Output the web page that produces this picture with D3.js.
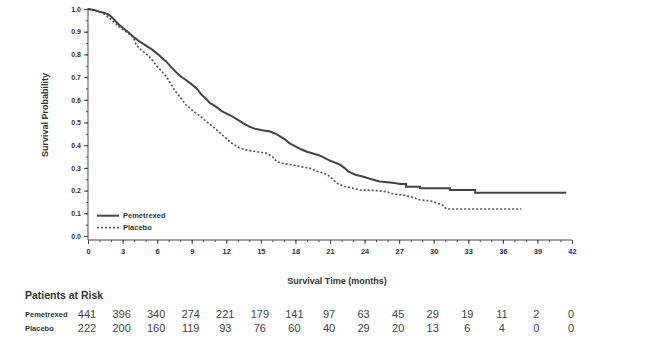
<!DOCTYPE html>
<html>
<head>
<meta charset="utf-8">
<script src="https://cdn.jsdelivr.net/npm/d3@7"></script>
<style>
  body { margin: 0; background: #fff; }
  svg text { font-family: Arial, "Liberation Sans", sans-serif; }
</style>
</head>
<body>
<div id="app"></div>
<script>
// survival curves (months, probability)
var pemTime = [0, 0.5, 1.0, 1.5, 1.9, 2.3, 2.7, 3.2, 3.6, 4.0, 4.5, 5.0, 5.6, 6.2, 6.8, 7.2, 7.6, 8.0, 8.5, 9.0,
    9.4, 9.8, 10.2, 10.6, 11.1, 11.6, 12.3, 12.9, 13.5, 14.0, 14.4, 15.1, 15.8, 16.3, 16.7, 17.1, 17.5, 18.0,
    18.5, 19.0, 19.6, 20.1, 20.6, 21.0, 21.5, 21.9, 22.3, 22.6, 23.2, 23.9, 24.6, 25.3, 26.0, 26.6, 27.1,
    27.6, 27.6, 28.8, 28.8, 31.4, 31.4, 33.6, 33.6, 41.5];
var pemSurv = [1.0, 0.996, 0.988, 0.982, 0.972, 0.952, 0.93, 0.91, 0.893, 0.875, 0.856, 0.84, 0.82, 0.795,
    0.768, 0.745, 0.724, 0.705, 0.687, 0.668, 0.651, 0.625, 0.607, 0.585, 0.57, 0.55, 0.533, 0.515, 0.496,
    0.482, 0.474, 0.466, 0.46, 0.45, 0.438, 0.425, 0.408, 0.395, 0.382, 0.371, 0.362, 0.355, 0.342, 0.332,
    0.322, 0.313, 0.298, 0.283, 0.27, 0.261, 0.25, 0.24, 0.237, 0.233, 0.229,
    0.229, 0.217, 0.217, 0.21, 0.21, 0.203, 0.203, 0.191, 0.191];

var plaTime = [0, 0.5, 1.0, 1.5, 2.1, 2.7, 3.3, 3.9, 4.2, 4.6, 5.0, 5.5, 5.9, 6.4, 6.8, 7.2, 7.6, 8.1, 8.5,
    8.9, 9.4, 9.8, 10.3, 10.9, 11.5, 12.0, 12.3, 12.8, 13.2, 14.0, 14.8, 15.5, 16.0, 16.4, 17.1, 17.8, 18.5,
    19.3, 19.9, 20.5, 21.0, 21.6, 22.3, 23.0, 23.6, 25.1, 25.9, 26.5, 27.4, 28.2, 28.8, 29.7, 30.3, 30.8,
    31.1, 37.6];
var plaSurv = [1.0, 0.996, 0.988, 0.975, 0.95, 0.922, 0.9, 0.878, 0.841, 0.82, 0.805, 0.78, 0.753, 0.725,
    0.702, 0.67, 0.636, 0.605, 0.577, 0.56, 0.54, 0.526, 0.503, 0.48, 0.452, 0.43, 0.415, 0.398, 0.386,
    0.376, 0.37, 0.364, 0.35, 0.327, 0.318, 0.313, 0.305, 0.298, 0.285, 0.276, 0.262, 0.232, 0.218, 0.21,
    0.203, 0.2, 0.195, 0.185, 0.18, 0.17, 0.159, 0.155, 0.145, 0.135, 0.119, 0.119];

var riskMonths = [0, 3, 6, 9, 12, 15, 18, 21, 24, 27, 30, 33, 36, 39, 42];
var pemRisk = [441, 396, 340, 274, 221, 179, 141, 97, 63, 45, 29, 19, 11, 2, 0];
var plaRisk = [222, 200, 160, 119, 93, 76, 60, 40, 29, 20, 13, 6, 4, 0, 0];

var seriesNames = ["Pemetrexed", "Placebo"];

var W = 666, H = 363;
var axisY = 240;
var inkDark = "#444";

var svg = d3.select("#app").append("svg")
    .attr("width", W)
    .attr("height", H);

var x = d3.scaleLinear().domain([0, 42]).range([88, 572]);
var y = d3.scaleLinear().domain([0, 1]).range([236, 9]);

//X AXIS
var xMinor = svg.append("g")
    .attr("transform", "translate(0," + axisY + ")")
    .call(d3.axisBottom(x).tickValues(d3.range(0, 43, 1)).tickSize(2).tickSizeOuter(0).tickFormat(""));
xMinor.select(".domain").remove();

var xAxis = svg.append("g")
    .attr("transform", "translate(0," + axisY + ")")
    .call(d3.axisBottom(x).tickValues(riskMonths).tickSize(4).tickSizeOuter(0).tickFormat(d3.format("d")));
xAxis.select(".domain").remove();
xAxis.selectAll("text")
    .attr("y", 9)
    .style("font-size", "7.5px")
    .style("font-weight", "bold")
    .style("fill", "#333");

//Y AXIS
var yMinor = svg.append("g")
    .attr("transform", "translate(88,0)")
    .call(d3.axisLeft(y).tickValues(d3.range(0, 1.001, 0.05)).tickSize(2).tickFormat(""));
yMinor.select(".domain").remove();

var yAxis = svg.append("g")
    .attr("transform", "translate(88,0)")
    .call(d3.axisLeft(y).tickValues(d3.range(0, 1.001, 0.1)).tickSize(4).tickFormat(d3.format(".1f")));
yAxis.select(".domain").remove();
yAxis.selectAll("text")
    .attr("x", -7)
    .style("font-size", "7px")
    .style("font-weight", "bold")
    .style("fill", "#333");

svg.selectAll(".tick line").style("stroke", inkDark);

// axis lines
svg.append("line")
    .attr("x1", 88).attr("x2", 88)
    .attr("y1", 8).attr("y2", axisY)
    .style("stroke", inkDark).style("stroke-width", 1);
svg.append("line")
    .attr("x1", 88).attr("x2", x(42))
    .attr("y1", axisY).attr("y2", axisY)
    .style("stroke", inkDark).style("stroke-width", 1);

//CURVES
var line = d3.line()
    .x(function (d) { return x(d[0]); })
    .y(function (d) { return y(d[1]); });

svg.append("path")
    .datum(d3.zip(plaTime, plaSurv))
    .attr("d", line)
    .style("fill", "none")
    .style("stroke", "#555")
    .style("stroke-width", 1.7)
    .style("stroke-dasharray", "2,2");

svg.append("path")
    .datum(d3.zip(pemTime, pemSurv))
    .attr("d", line)
    .style("fill", "none")
    .style("stroke", "#444")
    .style("stroke-width", 2);

//LEGEND
var legend = svg.selectAll(".legend")
    .data(seriesNames)
    .enter()
    .append("g")
    .attr("class", "legend")
    .attr("transform", function (d, i) { return "translate(97," + (215.7 + i * 12) + ")"; });
legend.append("line")
    .attr("x1", 0).attr("x2", 22)
    .attr("y1", 0).attr("y2", 0)
    .style("stroke", function (d, i) { return i === 0 ? "#444" : "#555"; })
    .style("stroke-width", function (d, i) { return i === 0 ? 2 : 1.7; })
    .style("stroke-dasharray", function (d, i) { return i === 0 ? null : "2,2"; });
legend.append("text")
    .attr("x", 26)
    .attr("y", 2.5)
    .style("font-size", "7.5px")
    .style("font-weight", "bold")
    .style("fill", "#333")
    .text(function (d) { return d; });

//AXIS TITLES
svg.append("text")
    .attr("transform", "translate(48,115) rotate(-90)")
    .attr("text-anchor", "middle")
    .style("font-size", "9px")
    .style("font-weight", "bold")
    .style("fill", "#333")
    .text("Survival Probability");

svg.append("text")
    .attr("x", 337)
    .attr("y", 284)
    .attr("text-anchor", "middle")
    .style("font-size", "9px")
    .style("font-weight", "bold")
    .style("fill", "#333")
    .text("Survival Time (months)");

//PATIENTS AT RISK
svg.append("text")
    .attr("x", 25)
    .attr("y", 299)
    .style("font-size", "10.5px")
    .style("font-weight", "bold")
    .style("fill", "#333")
    .text("Patients at Risk");

var riskRows = [pemRisk, plaRisk];
var rowY = [317.5, 331.5];

riskRows.forEach(function (row, r) {
    svg.append("text")
        .attr("x", 25)
        .attr("y", rowY[r] - 0.5)
        .style("font-size", "7.5px")
        .style("font-weight", "bold")
        .style("fill", "#333")
        .text(seriesNames[r]);
    svg.selectAll(".risk" + r)
        .data(row)
        .enter()
        .append("text")
        .attr("class", "risk" + r)
        .attr("x", function (d, i) { return x(riskMonths[i]) - 1; })
        .attr("y", rowY[r])
        .attr("text-anchor", "middle")
        .style("font-size", "11px")
        .style("fill", "#444")
        .text(function (d) { return d; });
});
</script>
</body>
</html>
